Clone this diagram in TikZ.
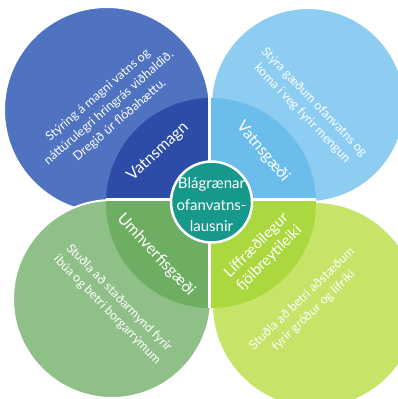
\documentclass[tikz,border=0pt]{standalone}
\usepackage{fontspec}
\setmainfont{Lato}
\definecolor{tlc}{HTML}{4F72C1}
\definecolor{tlw}{HTML}{2C4CA8}
\definecolor{trc}{HTML}{8DCDF2}
\definecolor{trw}{HTML}{6CBCEC}
\definecolor{blc}{HTML}{8FC087}
\definecolor{blw}{HTML}{6EAE62}
\definecolor{brc}{HTML}{C5E468}
\definecolor{brw}{HTML}{ABD73F}
\definecolor{ctr}{HTML}{16998A}
\begin{document}
\begin{tikzpicture}[x=1pt,y=-1pt,
  bigc/.style={draw=white, line width=2pt},
  desc/.style={text=white, align=center, font=\fontsize{12.5}{16.5}\selectfont, inner sep=0pt},
  lab/.style={text=white, align=center, font=\fontsize{16}{19}\selectfont, inner sep=0pt}]
\useasboundingbox (0,0) rectangle (397,399);
\fill[white] (0,0) rectangle (397,399);
% big circles
\path[bigc, fill=tlc] (107,110) circle[radius=103];
\path[bigc, fill=trc] (308,105) circle[radius=97];
\path[bigc, fill=blc] (112,299) circle[radius=99];
\path[bigc, fill=brc] (315,305) circle[radius=103];
% inner wedges
\begin{scope}\clip (0,0) rectangle (209.5,199.5); \fill[tlw] (211,203) circle[radius=105]; \end{scope}
\begin{scope}\clip (209.5,0) rectangle (397,199.5); \fill[trw] (211,203) circle[radius=105]; \end{scope}
\begin{scope}\clip (0,199.5) rectangle (209.5,399); \fill[blw] (211,203) circle[radius=105]; \end{scope}
\begin{scope}\clip (209.5,199.5) rectangle (397,399); \fill[brw] (211,203) circle[radius=105]; \end{scope}
\begin{scope}
  \clip (211,203) circle[radius=105];
  \draw[white, line width=2.5pt] (209.5,0) -- (209.5,399);
  \draw[white, line width=2.5pt] (0,199.5) -- (397,199.5);
\end{scope}
% centre
\node[circle, fill=ctr, draw=white, line width=2.5pt, minimum size=81pt, inner sep=0pt] (hub) at (211.5,202) {};
\node[text=white, align=center, font=\fontsize{15}{21.5}\selectfont, inner sep=0pt] (hubtext) at (211.5,205) {Blágrænar\\ofanvatns-\\lausnir};
% labels
\node[lab, rotate=43] (vm) at (158,152) {Vatnsmagn};
\node[lab, rotate=-50] (vg) at (263,152) {Vatnsgæði};
\node[lab, rotate=-47] (uh) at (156,255) {Umhverfisgæði};
\node[lab, rotate=45, font=\fontsize{15}{18}\selectfont] (lf) at (263,252) {Líffræðilegur\\fjölbreytileiki};
% descriptions
\node[desc, rotate=41] (dtl) at (109,108) {Stýring á magni vatns og\\náttúrulegri hringrás viðhaldið.\\Dregið úr flóðahættu.};
\node[desc, rotate=-46] (dtr) at (308,108) {Stýra gæðum ofanvatns og\\koma í veg fyrir mengun};
\node[desc, rotate=-45.5] (dbl) at (113,304) {Stuðla að staðarmynd fyrir\\íbúa og betri borgarrýmum};
\node[desc, rotate=44] (dbr) at (308,305) {Stuðla að betri aðstæðum\\fyrir gróður og lífríki};
\end{tikzpicture}
\end{document}
